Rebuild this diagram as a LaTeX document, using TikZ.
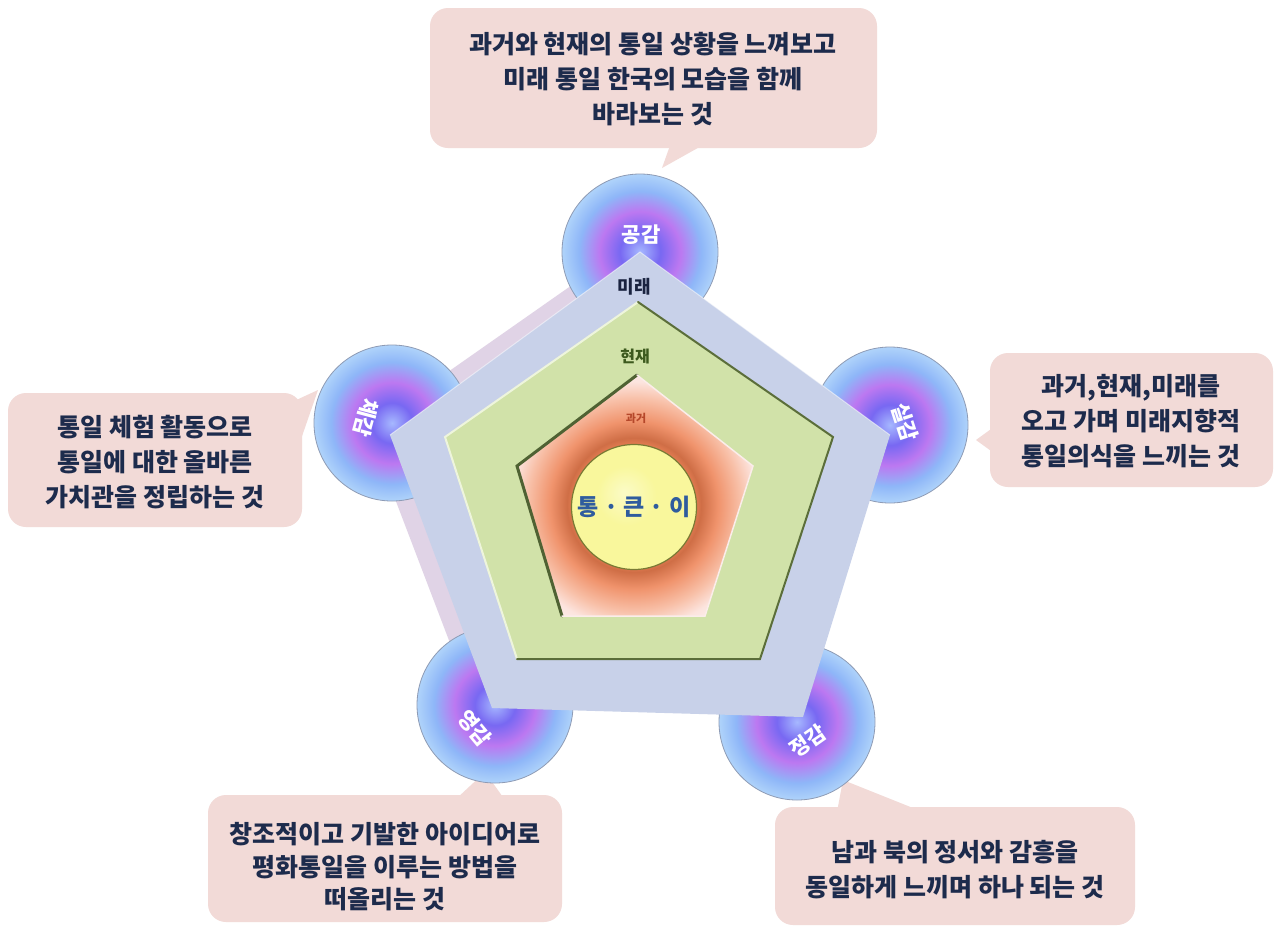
\documentclass[tikz,border=0pt]{standalone}
\usepackage{fontspec}
\setmainfont{Noto Sans CJK KR}
\definecolor{navy}{HTML}{1D2B4C}
\definecolor{callfill}{HTML}{F2DAD7}
\definecolor{outerfill}{HTML}{C8D1E9}
\definecolor{outershadow}{HTML}{D9C9E0}
\definecolor{greenfill}{HTML}{D1E2A9}
\definecolor{greendark}{HTML}{5B6E3A}
\definecolor{greenlight}{HTML}{EEF5DC}
\definecolor{innerdark}{HTML}{4F6233}
\definecolor{innerlight}{HTML}{FBEDEA}
\definecolor{coreyellow}{HTML}{F9F79C}
\definecolor{coreyellowB}{HTML}{FBFBC6}
\definecolor{coreline}{HTML}{7A7A35}
\definecolor{coretext}{HTML}{2F5C9E}
\definecolor{orbA}{HTML}{A6B8FF}
\definecolor{orbB}{HTML}{7868F2}
\definecolor{orbC}{HTML}{BC78F1}
\definecolor{orbD}{HTML}{8EB6F8}
\definecolor{orbE}{HTML}{AFD3FA}
\definecolor{orbline}{HTML}{8E9BB5}
\definecolor{inA}{HTML}{E07A50}
\definecolor{inB}{HTML}{CF6E46}
\definecolor{inC}{HTML}{F0936C}
\definecolor{inD}{HTML}{F8C0A8}
\definecolor{inE}{HTML}{FCE4DE}
\definecolor{inF}{HTML}{FDF0EE}
\definecolor{miraetext}{HTML}{1A2340}
\definecolor{hyeontext}{HTML}{3D5A1E}
\definecolor{gwatext}{HTML}{B5472A}
% TikZ maps the +-25bp square of a shading onto the bounding box of the shaded path
\pgfdeclareradialshading{orb}{\pgfpoint{0bp}{0bp}}{color(0bp)=(orbA); color(6.5bp)=(orbB); color(13bp)=(orbC); color(19.5bp)=(orbD); color(25bp)=(orbE); color(50bp)=(orbE)}
\pgfdeclareradialshading{innerglow}{\pgfpoint{0bp}{0bp}}{color(0bp)=(inA); color(11bp)=(inA); color(12bp)=(inB); color(15bp)=(inC); color(19bp)=(inD); color(22bp)=(inE); color(25bp)=(inF); color(50bp)=(inF)}
\pgfdeclareradialshading{coreshade}{\pgfpoint{-4bp}{6bp}}{color(0bp)=(coreyellowB); color(12bp)=(coreyellow); color(25bp)=(coreyellow); color(50bp)=(coreyellow)}
\begin{document}
\begin{tikzpicture}[x=1pt,y=-1pt,
  callout/.style={fill=callfill, rounded corners=18pt, inner sep=0pt},
  ctext/.style={font=\bfseries\fontsize{25}{35}\selectfont, text=navy, align=center, inner sep=0pt},
  orblabel/.style={font=\bfseries\fontsize{21}{21}\selectfont, text=white, inner sep=0pt},
  orbedge/.style={draw=orbline, line width=0.8pt}
]
\useasboundingbox (0,0) rectangle (1282,927);
\fill[white] (0,0) rectangle (1282,927);

% ---------- callouts ----------
\node[callout, minimum width=447pt, minimum height=140pt] (cTop) at (653.5,78) {};
\fill[callfill] (672,140) -- (712,140) -- (662,168) -- cycle;
\node[ctext] (tTop) at (653,79) {과거와 현재의 통일 상황을 느껴보고\\미래 통일 한국의 모습을 함께\\바라보는 것};

\node[callout, minimum width=294pt, minimum height=134pt] (cLeft) at (155,460) {};
\fill[callfill] (292,402) -- (300,442) -- (318,390) -- cycle;
\node[ctext] (tLeft) at (155,462) {통일 체험 활동으로\\통일에 대한 올바른\\가치관을 정립하는 것};

\node[callout, minimum width=283pt, minimum height=134pt] (cRight) at (1131.5,420) {};
\fill[callfill] (998,424) -- (998,456) -- (976,440) -- cycle;
\node[ctext] (tRight) at (1131,421) {과거,현재,미래를\\오고 가며 미래지향적\\통일의식을 느끼는 것};

\node[callout, minimum width=354pt, minimum height=127pt] (cBL) at (385,858.5) {};
\fill[callfill] (455,800) -- (505,800) -- (485,772) -- cycle;
\node[ctext, font=\bfseries\fontsize{25}{32.5}\selectfont] (tBL) at (385,867) {창조적이고 기발한 아이디어로\\평화통일을 이루는 방법을\\떠올리는 것};

\node[callout, minimum width=360pt, minimum height=118pt] (cBR) at (955,866) {};
\fill[callfill] (837,812) -- (923,812) -- (843,780) -- cycle;
\node[ctext] (tBR) at (955,869.5) {남과 북의 정서와 감흥을\\동일하게 느끼며 하나 되는 것};

% ---------- pentagon shadow (behind the orbs) ----------
\fill[outershadow, opacity=0.8] (622,250) -- (872,428) -- (785,709) -- (474,706) -- (368,428) -- cycle;

% ---------- orbs ----------
\coordinate (oTop) at (640,252);
\coordinate (oLeft) at (392,423);
\coordinate (oRight) at (890,425);
\coordinate (oBL) at (495,705);
\coordinate (oBR) at (797,722);
\foreach \c in {oTop,oLeft,oRight,oBL,oBR}{
  \shade[shading=orb] (\c) circle (78);
  \draw[orbedge] (\c) circle (78);
}

% ---------- outer pentagon ----------
\fill[outerfill] (640,252) -- (890,435) -- (803,717) -- (492,708) -- (390,435) -- cycle;
\draw[white, opacity=0.5, line width=1pt] (390,435) -- (640,252) -- (890,435);

% ---------- green pentagon ----------
\fill[greenfill] (638,302) -- (833,437) -- (760,659) -- (517,659) -- (445,437) -- cycle;
\draw[greenlight, line width=2pt, line cap=round] (517,659) -- (445,437) -- (638,302);
\draw[greendark, line width=2pt, line cap=round] (638,302) -- (833,437) -- (760,659) -- (517,659);

% ---------- inner pentagon ----------
\begin{scope}
  \clip (637,375) -- (753,466) -- (705,616) -- (562,616) -- (517,466) -- cycle;
  \shade[shading=innerglow] (634,505) circle (140);
\end{scope}
\draw[innerdark, line width=3pt, line cap=round] (562,616) -- (517,466) -- (637,375);
\draw[innerlight, line width=1.5pt, line cap=round] (637,375) -- (753,466) -- (705,616) -- (562,616);

% ---------- core ----------
\node[circle, shading=coreshade, draw=coreline, line width=1.2pt, minimum size=125pt, inner sep=0pt] (core) at (634,507) {};
\node[font=\bfseries\fontsize{23}{23}\selectfont, text=coretext] (coreT) at (core.center) {통 · 큰 · 이};

% ---------- layer labels ----------
\node[font=\bfseries\fontsize{18}{18}\selectfont, text=miraetext] (lMirae) at (634,287) {미래};
\node[font=\bfseries\fontsize{16}{16}\selectfont, text=hyeontext] (lHyeon) at (635,356) {현재};
\node[font=\bfseries\fontsize{11}{11}\selectfont, text=gwatext] (lGwa) at (636,418) {과거};

% ---------- orb labels ----------
\node[orblabel] (lTop) at (641,235) {공감};
\node[orblabel, rotate=-105] (lLeft) at (366,418) {체감};
\node[orblabel, rotate=-72] (lRight) at (905,422) {실감};
\node[orblabel, rotate=-50] (lBL) at (475,728) {영감};
\node[orblabel, rotate=35] (lBR) at (808,741) {정감};
\end{tikzpicture}
\end{document}
